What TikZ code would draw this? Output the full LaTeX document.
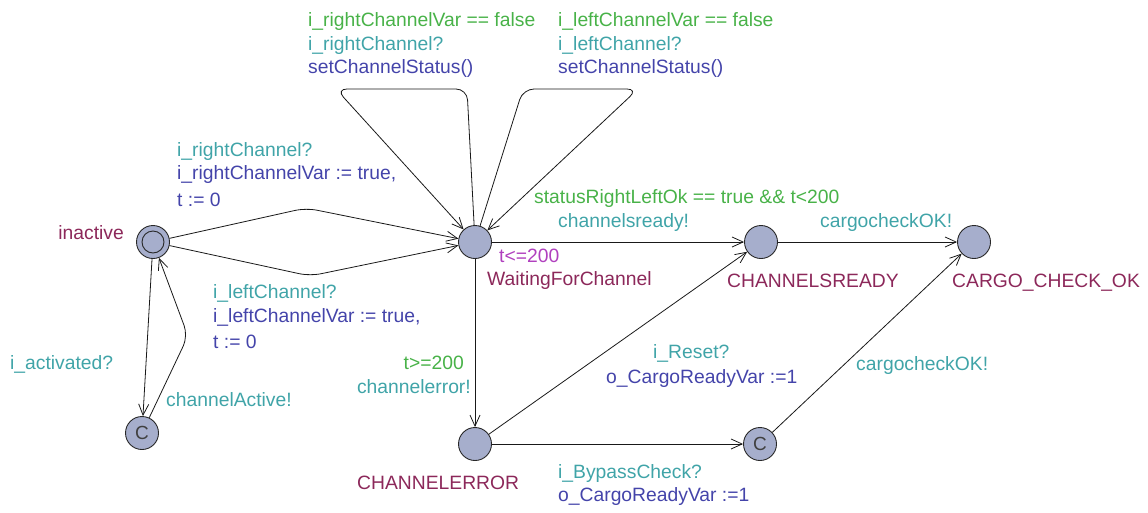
\documentclass[tikz,border=0pt]{standalone}
\usepackage{fontspec}
\setmainfont{Liberation Sans}
\usetikzlibrary{arrows.meta}

\definecolor{locfill}{RGB}{166,174,204}
\definecolor{locline}{RGB}{40,40,40}
\definecolor{guardcol}{RGB}{72,178,72}
\definecolor{synccol}{RGB}{64,164,168}
\definecolor{updatecol}{RGB}{68,68,170}
\definecolor{namecol}{RGB}{140,40,90}
\definecolor{invcol}{RGB}{176,64,190}

\begin{document}
\begin{tikzpicture}[x=1pt,y=-1pt,
  loc/.style={circle,draw=locline,fill=locfill,line width=0.9pt,minimum size=33pt,inner sep=0pt},
  committed/.style={loc,font=\fontsize{19}{19}\selectfont,text=black!75},
  edge/.style={draw=black!90,line width=0.8pt,rounded corners=11pt,-{Straight Barb[length=11pt,width=10pt]}},
  lbl/.style={anchor=base west,inner sep=0pt,font=\fontsize{19.3}{23}\selectfont},
  guard/.style={lbl,text=guardcol},
  sync/.style={lbl,text=synccol},
  update/.style={lbl,text=updatecol,align=left},
  lname/.style={lbl,text=namecol},
  inv/.style={lbl,text=invcol}]

\useasboundingbox (0,0) rectangle (1148,512);

% locations
\node[loc] (inactive) at (153,242) {};
\draw[locline,line width=0.9pt] (inactive.center) circle (11pt);
\node[committed] (cone) at (142,433) {C};
\node[loc] (waiting) at (475,242) {};
\node[loc] (ready) at (761,242) {};
\node[loc] (cargo) at (974,242) {};
\node[loc] (error) at (475,444) {};
\node[committed] (ctwo) at (760,444) {C};

% location names and invariants
\node[lname,anchor=base east] (ninactive) at (124,239) {inactive};
\node[inv] (nwinv) at (499,262) {t<=200};
\node[lname] (nwaiting) at (487,285) {WaitingForChannel};
\node[lname] (nready) at (727,287) {CHANNELSREADY};
\node[lname] (ncargo) at (952,287) {CARGO\_CHECK\_OK};
\node[lname] (nerror) at (357,489) {CHANNELERROR};

% bend points
\coordinate (ua) at (306,208);
\coordinate (la) at (310,276);
\coordinate (back) at (188,336);
\coordinate (loopAa) at (467,89);
\coordinate (loopAb) at (336,89);
\coordinate (loopBa) at (523,89);
\coordinate (loopBb) at (638,89);

% edges
\draw[edge] (inactive) -- (ua) -- (waiting);
\draw[edge] (inactive) -- (la) -- (waiting);
\draw[edge] (inactive) -- (cone);
\draw[edge] (cone) -- (back) -- (inactive);
\draw[edge] (waiting) -- (loopAa) -- (loopAb) -- (waiting);
\draw[edge] (waiting) -- (loopBa) -- (loopBb) -- (waiting);
\draw[edge] (waiting) -- (ready);
\draw[edge] (ready) -- (cargo);
\draw[edge] (waiting) -- (error);
\draw[edge] (error) -- (ready);
\draw[edge] (error) -- (ctwo);
\draw[edge] (ctwo) -- (cargo);

% self loop labels
\node[guard] (gla) at (308,26) {i\_rightChannelVar == false};
\node[sync] (sla) at (308,50) {i\_rightChannel?};
\node[update] (ula) at (308,73) {setChannelStatus()};
\node[guard] (glb) at (558,26) {i\_leftChannelVar == false};
\node[sync] (slb) at (558,50) {i\_leftChannel?};
\node[update] (ulb) at (558,73) {setChannelStatus()};

% inactive -> waiting labels
\node[sync] (sua) at (177,156) {i\_rightChannel?};
\node[update] (uua) at (177,179) {i\_rightChannelVar := true,};
\node[update] (uub) at (177,206) {t := 0};
\node[sync] (sla2) at (213,298) {i\_leftChannel?};
\node[update] (ula2) at (213,322) {i\_leftChannelVar := true,};
\node[update] (ulb2) at (213,348) {t := 0};

% inactive <-> committed labels
\node[sync] (sact) at (10,369) {i\_activated?};
\node[sync] (sca) at (166,406) {channelActive!};

% waiting -> error labels
\node[guard,anchor=base east] (gerr) at (464,369) {t>=200};
\node[sync,anchor=base east] (serr) at (471,393) {channelerror!};

% waiting -> ready labels
\node[guard] (gready) at (534,203) {statusRightLeftOk == true \&\& t<200};
\node[sync] (sready) at (558,227) {channelsready!};

% ready -> cargo label
\node[sync] (scargo) at (820,227) {cargocheckOK!};

% error -> ready labels
\node[sync] (sreset) at (653,358) {i\_Reset?};
\node[update] (ureset) at (606,383) {o\_CargoReadyVar :=1};

% error -> committed labels
\node[sync] (sbyp) at (558,478) {i\_BypassCheck?};
\node[update] (ubyp) at (558,501) {o\_CargoReadyVar :=1};

% committed -> cargo label
\node[sync] (scargo2) at (856,370) {cargocheckOK!};

\end{tikzpicture}
\end{document}
